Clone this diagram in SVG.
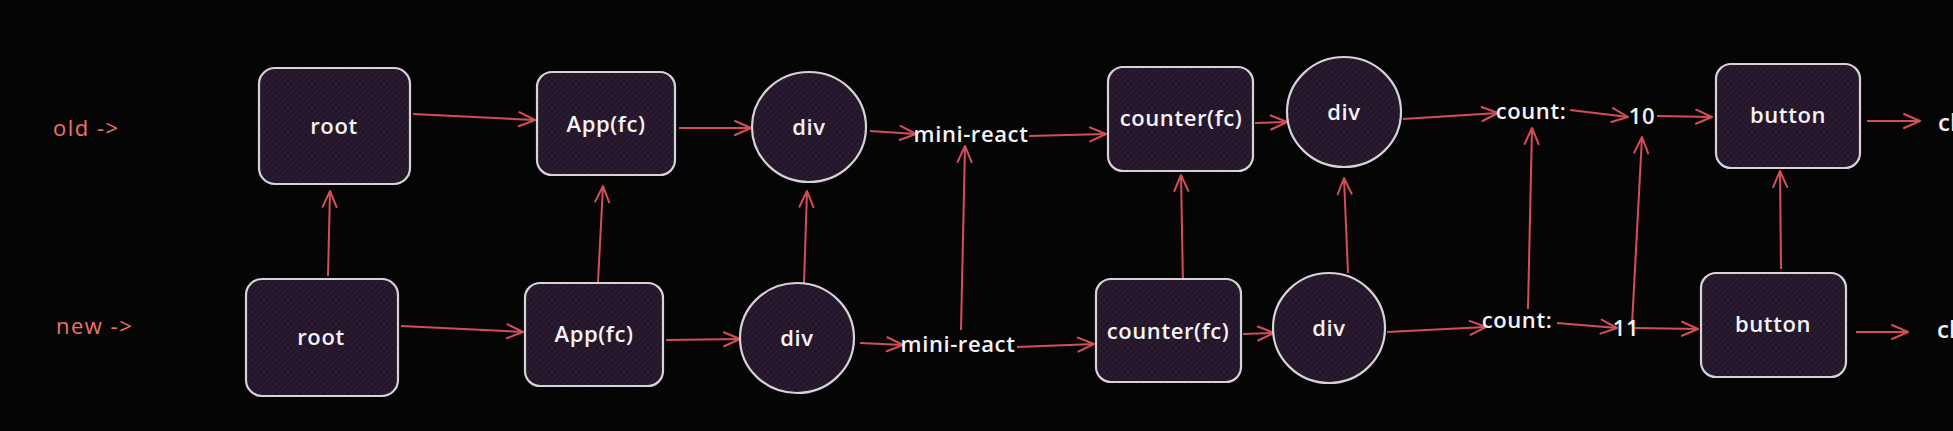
<svg xmlns="http://www.w3.org/2000/svg" width="1953" height="431" viewBox="0 0 1953 431">
<defs>
<style>
.bg{fill:#060506}
.node{fill:url(#hatch);stroke:#d6d3d6;stroke-width:2.2}
.t{font-family:"Open Sans","Liberation Sans",sans-serif;font-size:22px;font-weight:600;fill:#f4f2f4;text-anchor:middle;dominant-baseline:central;letter-spacing:0.6px}
.lab{font-family:"Open Sans","Liberation Sans",sans-serif;font-size:22px;fill:#f0736a;dominant-baseline:central;letter-spacing:1.5px}
.side{font-family:"Open Sans","Liberation Sans",sans-serif;font-size:24px;font-weight:600;fill:#f4f2f4;dominant-baseline:central}
.e{fill:none;stroke:#d24f5a;stroke-width:2;marker-end:url(#ah)}
</style>
<pattern id="hatch" patternUnits="userSpaceOnUse" width="6" height="6">
<rect width="6" height="6" fill="#231629"/>
<path d="M0,6 L6,0 M-1,1 L1,-1 M5,7 L7,5" stroke="#311e3b" stroke-width="1"/>
<path d="M0,0 L6,6" stroke="#2c1b35" stroke-width="0.8"/>
</pattern>
<marker id="ah" markerUnits="userSpaceOnUse" markerWidth="20" markerHeight="18" viewBox="-2 -2 20 18" refX="16" refY="7" orient="auto">
<path d="M0,0 L16,7 L0,14" fill="none" stroke="#d24f5a" stroke-width="2" stroke-linecap="round" stroke-linejoin="round"/>
</marker>
</defs>
<rect class="bg" x="0" y="0" width="1953" height="431"/>

<text class="lab" x="53" y="127">old -&gt;</text>
<text class="lab" x="56" y="325">new -&gt;</text>

<g id="edges">
<path class="e" d="M413,114 L535,120"/>
<path class="e" d="M679,128 L751,128"/>
<path class="e" d="M870,131 L916,134"/>
<path class="e" d="M1029,136 L1106,134"/>
<path class="e" d="M1255,123 L1287,122"/>
<path class="e" d="M1403,119 L1498,113"/>
<path class="e" d="M1570,110 L1628,117"/>
<path class="e" d="M1657,116 L1712,117"/>
<path class="e" d="M1867,121 L1920,121"/>
<path class="e" d="M401,326 L523,332"/>
<path class="e" d="M666,340 L740,339"/>
<path class="e" d="M860,343 L903,345"/>
<path class="e" d="M1017,347 L1094,344"/>
<path class="e" d="M1243,334 L1274,333"/>
<path class="e" d="M1387,332 L1486,327"/>
<path class="e" d="M1557,323 L1617,328"/>
<path class="e" d="M1635,328 L1698,329"/>
<path class="e" d="M1856,332 L1908,332"/>
<path class="e" d="M328,276 L330,191"/>
<path class="e" d="M598,282 L603,186"/>
<path class="e" d="M804,283 L807,191"/>
<path class="e" d="M961,330 L965,146"/>
<path class="e" d="M1183,286 L1181,175"/>
<path class="e" d="M1348,273 L1344,178"/>
<path class="e" d="M1528,309 L1532,128"/>
<path class="e" d="M1632,325 L1642,137"/>
<path class="e" d="M1781,269 L1780,171"/>
</g>

<g id="root_old"><rect class="node" x="259" y="68" width="151" height="116" rx="16"/><text class="t" x="334" y="125">root</text></g>
<g id="app_old"><rect class="node" x="537" y="72" width="138" height="103" rx="15"/><text class="t" x="606" y="123">App(fc)</text></g>
<g id="div_old"><ellipse class="node" cx="809" cy="127" rx="57" ry="55"/><text class="t" x="809" y="126">div</text></g>
<g id="mini_old"><text class="t" x="971" y="133">mini-react</text></g>
<g id="counter_old"><rect class="node" x="1108" y="67" width="145" height="104" rx="15"/><text class="t" x="1181" y="117">counter(fc)</text></g>
<g id="div2_old"><ellipse class="node" cx="1344" cy="112" rx="57" ry="55"/><text class="t" x="1344" y="111">div</text></g>
<g id="count_old"><text class="t" x="1531" y="110">count:</text></g>
<g id="ten"><text class="t" x="1642" y="115">10</text></g>
<g id="button_old"><rect class="node" x="1716" y="64" width="144" height="104" rx="15"/><text class="t" x="1788" y="114">button</text></g>
<g id="cl_old"><text class="side" x="1938" y="121">cl</text></g>

<g id="root_new"><rect class="node" x="246" y="279" width="152" height="117" rx="16"/><text class="t" x="321" y="336">root</text></g>
<g id="app_new"><rect class="node" x="525" y="283" width="138" height="103" rx="15"/><text class="t" x="594" y="333">App(fc)</text></g>
<g id="div_new"><ellipse class="node" cx="797" cy="338" rx="57" ry="55"/><text class="t" x="797" y="337">div</text></g>
<g id="mini_new"><text class="t" x="958" y="343">mini-react</text></g>
<g id="counter_new"><rect class="node" x="1096" y="279" width="145" height="103" rx="15"/><text class="t" x="1168" y="330">counter(fc)</text></g>
<g id="div2_new"><ellipse class="node" cx="1329" cy="328" rx="56" ry="55"/><text class="t" x="1329" y="327">div</text></g>
<g id="count_new"><text class="t" x="1517" y="319">count:</text></g>
<g id="eleven"><text class="t" x="1626" y="327">11</text></g>
<g id="button_new"><rect class="node" x="1701" y="273" width="145" height="104" rx="15"/><text class="t" x="1773" y="323">button</text></g>
<g id="cl_new"><text class="side" x="1937" y="328">cl</text></g>
</svg>
